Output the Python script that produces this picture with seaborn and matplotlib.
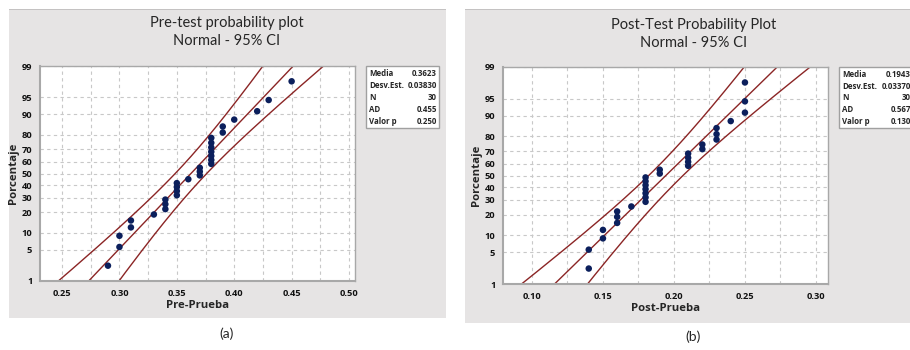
import numpy as np
import matplotlib
matplotlib.use("Agg")
import matplotlib.pyplot as plt
from matplotlib.patches import Rectangle
from matplotlib.ticker import MultipleLocator, FixedLocator, NullFormatter
import seaborn as sns
from statistics import NormalDist

# datos
pre_values = [0.29, 0.30, 0.30, 0.31, 0.31, 0.33, 0.34, 0.34, 0.34,
              0.35, 0.35, 0.35, 0.35, 0.36, 0.37, 0.37, 0.37,
              0.38, 0.38, 0.38, 0.38, 0.38, 0.38, 0.38,
              0.39, 0.39, 0.40, 0.42, 0.43, 0.45]
post_values = [0.14, 0.14, 0.15, 0.15, 0.16, 0.16, 0.16, 0.17,
               0.18, 0.18, 0.18, 0.18, 0.18, 0.18, 0.18, 0.19, 0.19,
               0.21, 0.21, 0.21, 0.21, 0.22, 0.22, 0.23, 0.23, 0.23,
               0.24, 0.25, 0.25, 0.25]

stat_labels = ["Media", "Desv.Est.", "N", "AD", "Valor p"]
pre_stats = ["0.3623", "0.03830", "30", "0.455", "0.250"]
post_stats = ["0.1943", "0.03370", "30", "0.567", "0.130"]
pre_mean, pre_sd = 0.3623, 0.03830
post_mean, post_sd = 0.1943, 0.03370

pct_ticks = [1, 5, 10, 20, 30, 40, 50, 60, 70, 80, 90, 95, 99]

sns.set_style("white")
plt.rcParams["font.family"] = ["Lato", "DejaVu Sans"]
BOLD = ["Open Sans", "DejaVu Sans"]

W, H = 910, 350
fig = plt.figure(figsize=(W / 100, H / 100), dpi=100)

nd = NormalDist()
_ppf = np.vectorize(nd.inv_cdf, otypes=[float])
_cdf = np.vectorize(nd.cdf, otypes=[float])


def fwd(p):
    p = np.clip(np.asarray(p, dtype=float) / 100.0, 1e-6, 1 - 1e-6)
    return _ppf(p)


def inv(z):
    return _cdf(np.asarray(z, dtype=float)) * 100.0


def fx(x):
    return x / W


def fy(y):
    return 1 - y / H


LINE = "#8b2525"
DOT = "#0b1f5c"
GREY_BG = "#e6e4e4"


def panel(values, mean, sd, rect, box, xlim, xticks, xlabel, title, tpos, tag, tagpos):
    x0, y0, x1, y1 = rect
    fig.add_artist(Rectangle((fx(x0), fy(y1)), fx(x1 - x0), (y1 - y0) / H,
                             transform=fig.transFigure, facecolor=GREY_BG,
                             edgecolor="none", zorder=0))
    fig.add_artist(Rectangle((fx(x0), fy(y0) - 0.003), fx(x1 - x0), 0.003,
                             transform=fig.transFigure, facecolor="#c4c2c2",
                             edgecolor="none", zorder=0))

    ax0, ay0, ax1, ay1 = box
    ax = fig.add_axes([fx(ax0), fy(ay1), fx(ax1 - ax0), (ay1 - ay0) / H])
    ax.set_facecolor("white")

    n = len(values)
    xs = np.sort(np.array(values))
    ranks = np.arange(1, n + 1)
    pct = (ranks - 0.3) / (n + 0.4) * 100

    # recta ajustada e intervalos de confianza del 95%
    pgrid = np.linspace(0.3, 99.7, 300)
    z = fwd(pgrid)
    fit = mean + z * sd
    half = 1.96 * sd * np.sqrt((1 + z ** 2 / 2) / n)
    for line in (fit - half, fit, fit + half):
        sns.lineplot(x=line, y=pgrid, ax=ax, color=LINE, lw=1.0,
                     sort=False, estimator=None)

    sns.scatterplot(x=xs, y=pct, ax=ax, color=DOT, s=22, edgecolor="none", zorder=5)

    ax.set_yscale("function", functions=(fwd, inv))
    ax.set_ylim(1, 99)
    ax.set_xlim(*xlim)
    ax.yaxis.set_major_locator(FixedLocator(pct_ticks))
    ax.yaxis.set_minor_formatter(NullFormatter())
    ax.yaxis.set_minor_locator(FixedLocator([]))
    ax.set_yticklabels([str(t) for t in pct_ticks])
    ax.xaxis.set_major_locator(FixedLocator(xticks))
    ax.set_xticklabels([f"{t:.2f}" for t in xticks])
    ax.xaxis.set_minor_locator(MultipleLocator(0.025))

    ax.grid(True, which="both", axis="x", color="#c8c8c8", ls=(0, (3, 3)), lw=0.8)
    ax.grid(True, which="major", axis="y", color="#c8c8c8", ls=(0, (3, 3)), lw=0.8)
    ax.set_axisbelow(True)

    for s in ax.spines.values():
        s.set_color("#a8a8a8")
        s.set_linewidth(1.0)
    ax.spines["left"].set_linewidth(1.5)
    ax.spines["bottom"].set_linewidth(1.5)
    ax.tick_params(axis="both", which="both", direction="out", color="#a8a8a8",
                   length=4, width=1, labelsize=6.7, pad=1.5, labelcolor="#111111")
    ax.tick_params(axis="x", which="minor", length=3)
    for lab in ax.get_xticklabels() + ax.get_yticklabels():
        lab.set_fontweight("bold")
        lab.set_family(BOLD)
    ax.set_xlabel(xlabel, fontsize=8.2, fontweight="bold", family=BOLD, labelpad=2)
    ax.set_ylabel("Porcentaje", fontsize=8.2, fontweight="bold", family=BOLD, labelpad=2)

    tx, ty = tpos
    fig.text(fx(tx), fy(ty), title, ha="center", va="center", fontsize=10.5,
             linespacing=1.35)
    fig.text(fx(tagpos[0]), fy(tagpos[1]), tag, ha="center", va="center", fontsize=10)
    return ax


def stats_box(labels, vals, bx0, by0, bx1, by1, vx):
    fig.add_artist(Rectangle((fx(bx0), fy(by1)), fx(bx1 - bx0), (by1 - by0) / H,
                             transform=fig.transFigure, facecolor="white",
                             edgecolor="#a0a0a0", lw=1.0, zorder=2))
    step = (by1 - by0 - 14) / 4
    for i, (lab, v) in enumerate(zip(labels, vals)):
        yy = by0 + 7.5 + i * step
        fig.text(fx(bx0 + 3), fy(yy), lab, ha="left", va="center", family=BOLD,
                 fontsize=5.7, fontweight="bold", zorder=3)
        fig.text(fx(vx), fy(yy), v, ha="right", va="center", family=BOLD,
                 fontsize=5.7, fontweight="bold", zorder=3)


panel(pre_values, pre_mean, pre_sd,
      rect=(9, 9, 446, 318), box=(40, 66, 355, 281),
      xlim=(0.2308, 0.5052), xticks=[0.25, 0.30, 0.35, 0.40, 0.45, 0.50],
      xlabel="Pre-Prueba", title="Pre-test probability plot\nNormal - 95% CI",
      tpos=(227, 32), tag="(a)", tagpos=(227, 334))
stats_box(stat_labels, pre_stats, 366, 66, 439, 128, 437)

panel(post_values, post_mean, post_sd,
      rect=(465, 9, 912, 323), box=(503, 67, 828, 284),
      xlim=(0.0796, 0.3085), xticks=[0.10, 0.15, 0.20, 0.25, 0.30],
      xlabel="Post-Prueba", title="Post-Test Probability Plot\nNormal - 95% CI",
      tpos=(694, 34), tag="(b)", tagpos=(693, 337))
stats_box(stat_labels, post_stats, 839, 67, 916, 128, 911)

fig.savefig("out.png", dpi=100)
